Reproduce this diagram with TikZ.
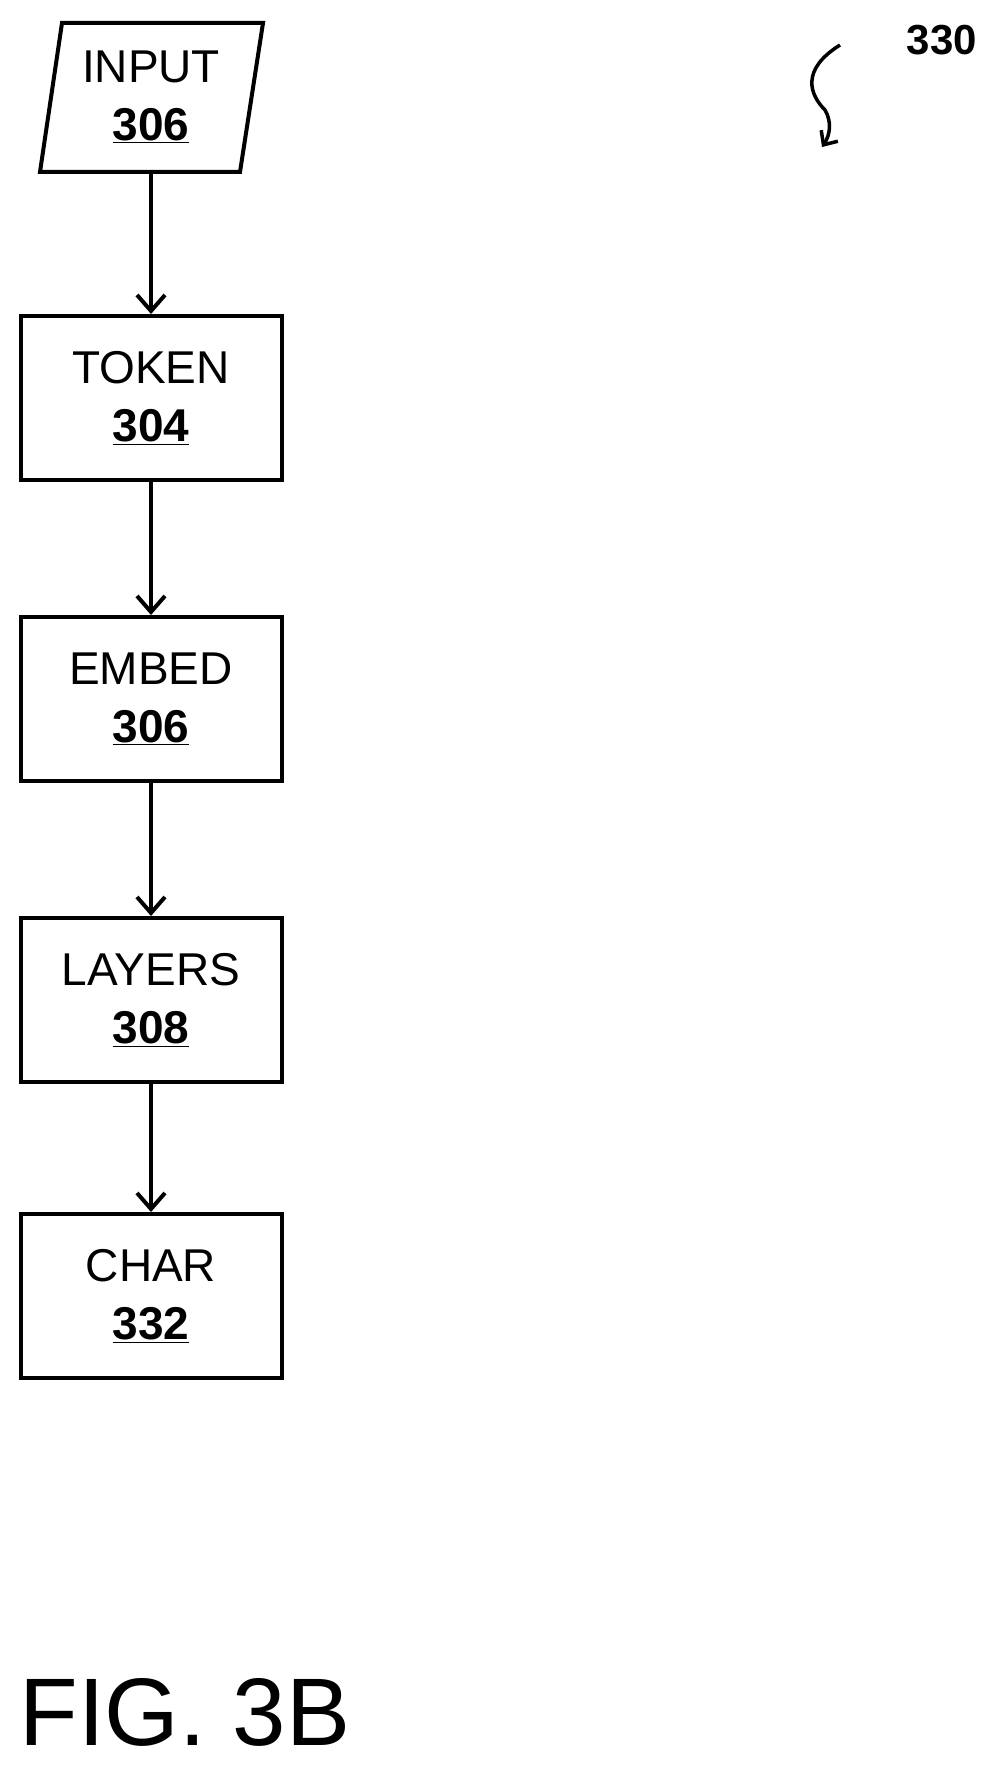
\documentclass[tikz,border=0pt]{standalone}
\usepackage{fontspec}
\setmainfont{Liberation Sans}
\usetikzlibrary{arrows.meta}
\begin{document}
\begin{tikzpicture}[x=1pt,y=-1pt,
  box/.style={draw,line width=4pt,minimum width=261pt,minimum height=164pt,align=center,font=\fontsize{46}{58}\selectfont,inner sep=0pt},
  arr/.style={line width=4pt,-{Straight Barb[length=16pt,width=28pt,line width=4pt]}}]
\useasboundingbox (0,0) rectangle (999,1771);
\newcommand{\nm}[1]{\textbf{\underline{#1}}}
\draw[line width=4pt,fill=white] (62,23) -- (263,23) -- (240,172) -- (40,172) -- cycle;
\node[align=center,font=\fontsize{46}{58}\selectfont] (in) at (151,97) {INPUT\\\nm{306}};
\coordinate (inb) at (151,172);
\node[box] (tok) at (151,398) {TOKEN\\\nm{304}};
\node[box] (emb) at (151,699) {EMBED\\\nm{306}};
\node[box] (lay) at (151,1000) {LAYERS\\\nm{308}};
\node[box] (chr) at (151,1296) {CHAR\\\nm{332}};
\draw[arr] (inb) -- (tok.north);
\draw[arr] (tok) -- (emb);
\draw[arr] (emb) -- (lay);
\draw[arr] (lay) -- (chr);
\node[font=\bfseries\fontsize{42}{50}\selectfont] (lbl) at (942,40) {330};
\coordinate (s1) at (840,45);
\coordinate (s2) at (822,147);
\draw[line width=3.5pt,-{Straight Barb[length=11pt,width=20pt,line width=3.5pt]}] (s1) .. controls (800,70) and (810,95) .. (825,110) .. controls (832,122) and (830,135) .. (s2);
\node[font=\fontsize{96}{110}\selectfont,anchor=west] (fig) at (16,1712) {FIG. 3B};
\end{tikzpicture}
\end{document}
